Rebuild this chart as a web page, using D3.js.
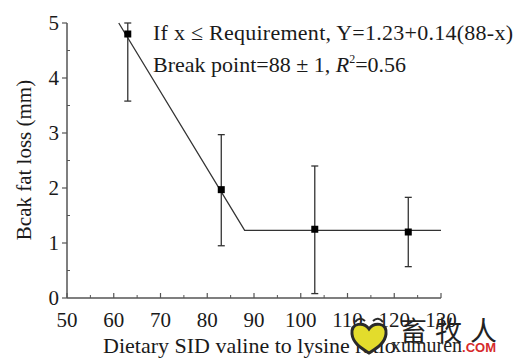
<!DOCTYPE html>
<html>
<head>
<meta charset="utf-8">
<script src="https://cdn.jsdelivr.net/npm/d3@7"></script>
<style>
  body { margin: 0; background: #fff; }
  svg text { font-family: "Liberation Serif", "DejaVu Serif", serif; fill: #1a1a1a; }
</style>
</head>
<body>
<div id="chart"></div>
<script>
// data
var ratio = [63, 83, 103, 123];
var fatLoss = [4.8, 1.97, 1.25, 1.2];
var errLow = [3.58, 0.95, 0.08, 0.57];
var errHigh = [5.0, 2.97, 2.4, 1.83];
var xTicks = [50, 60, 70, 80, 90, 100, 110, 120, 130];
var yTicks = [0, 1, 2, 3, 4, 5];
// broken-line model: Y = 1.23 + 0.14 (88 - x), flat after 88
var breakX = 88, plateau = 1.23, slope = 0.14;
var fitX = [breakX - (5 - plateau) / slope, breakX, 130];

var width = 520, height = 361;
var svg = d3.select("#chart").append("svg")
    .attr("width", width).attr("height", height);

var x = d3.scaleLinear().domain([50, 130]).range([67, 441]);
var y = d3.scaleLinear().domain([0, 5]).range([298, 23]);

var axisColor = "#555";

// left axis - major ticks outward, minor ticks inward
svg.append("line")
    .attr("x1", x(50)).attr("x2", x(50))
    .attr("y1", y(0)).attr("y2", y(5))
    .style("stroke", axisColor).style("stroke-width", 1.5);
svg.selectAll(".ymajor").data(yTicks).enter().append("line")
    .attr("x1", x(50) - 5).attr("x2", x(50))
    .attr("y1", d => y(d)).attr("y2", d => y(d))
    .style("stroke", axisColor).style("stroke-width", 1.2);
svg.selectAll(".yminor").data([0.5, 1.5, 2.5, 3.5, 4.5]).enter().append("line")
    .attr("x1", x(50)).attr("x2", x(50) + 3)
    .attr("y1", d => y(d)).attr("y2", d => y(d))
    .style("stroke", axisColor).style("stroke-width", 1);
svg.selectAll(".ylab").data(yTicks).enter().append("text")
    .attr("x", x(50) - 8).attr("y", d => y(d) + 7)
    .attr("text-anchor", "end")
    .style("font-size", "21px")
    .text(d => d);

// bottom axis - ticks inward
svg.append("line")
    .attr("x1", x(50)).attr("x2", x(130))
    .attr("y1", y(0)).attr("y2", y(0))
    .style("stroke", axisColor).style("stroke-width", 1.5);
svg.selectAll(".xmajor").data(xTicks).enter().append("line")
    .attr("x1", d => x(d)).attr("x2", d => x(d))
    .attr("y1", y(0)).attr("y2", y(0) - 5)
    .style("stroke", axisColor).style("stroke-width", 1.2);
svg.selectAll(".xminor").data(d3.range(55, 130, 10)).enter().append("line")
    .attr("x1", d => x(d)).attr("x2", d => x(d))
    .attr("y1", y(0)).attr("y2", y(0) - 3)
    .style("stroke", axisColor).style("stroke-width", 1);
svg.selectAll(".xlab").data(xTicks).enter().append("text")
    .attr("x", d => x(d)).attr("y", y(0) + 29)
    .attr("text-anchor", "middle")
    .style("font-size", "21px")
    .text(d => d);

// axis titles
svg.append("text")
    .attr("transform", "translate(31,160) rotate(-90)")
    .attr("text-anchor", "middle")
    .style("font-size", "21px")
    .text("Bcak fat loss (mm)");
svg.append("text")
    .attr("x", 103).attr("y", 353)
    .style("font-size", "22px")
    .text("Dietary SID valine to lysine ratio");

// fitted broken line
var line = d3.line()
    .x(d => x(d))
    .y(d => y(d <= breakX ? plateau + slope * (breakX - d) : plateau));
svg.append("path")
    .datum(fitX)
    .attr("d", line)
    .style("fill", "none").style("stroke", "#333").style("stroke-width", 1.3);

// error bars
var bars = svg.selectAll(".err").data(ratio).enter().append("g");
bars.append("line")
    .attr("x1", d => x(d)).attr("x2", d => x(d))
    .attr("y1", (d, i) => y(errLow[i])).attr("y2", (d, i) => y(errHigh[i]))
    .style("stroke", "#333").style("stroke-width", 1.3);
bars.append("line")
    .attr("x1", d => x(d) - 3.5).attr("x2", d => x(d) + 3.5)
    .attr("y1", (d, i) => y(errLow[i])).attr("y2", (d, i) => y(errLow[i]))
    .style("stroke", "#333").style("stroke-width", 1.3);
bars.append("line")
    .attr("x1", d => x(d) - 3.5).attr("x2", d => x(d) + 3.5)
    .attr("y1", (d, i) => y(errHigh[i])).attr("y2", (d, i) => y(errHigh[i]))
    .style("stroke", "#333").style("stroke-width", 1.3);

// points
svg.selectAll(".pt").data(ratio).enter().append("rect")
    .attr("x", d => x(d) - 3.5)
    .attr("y", (d, i) => y(fatLoss[i]) - 3.5)
    .attr("width", 7).attr("height", 7)
    .style("fill", "#000");

// equation text
svg.append("text")
    .attr("x", 153).attr("y", 40)
    .style("font-size", "22px")
    .attr("textLength", 360)
    .text("If x \u2264 Requirement, Y=1.23+0.14(88-x)");
var t2 = svg.append("text")
    .attr("x", 153).attr("y", 72)
    .style("font-size", "22px");
t2.append("tspan").text("Break point=88 \u00b1 1, ");
t2.append("tspan").style("font-style", "italic").text("R");
t2.append("tspan").attr("dy", -9).style("font-size", "12px").text("2");
t2.append("tspan").attr("dy", 9).text("=0.56");

// watermark
var wm = svg.append("g").attr("transform", "translate(369,338)");
wm.append("path")
    .attr("d", "M0,-9 C-5,-16 -18,-16 -17,-4 C-16,6 -6,11 0,15 C6,11 16,6 17,-4 C18,-16 5,-16 0,-9 Z")
    .style("fill", "#e3dc2c").style("stroke", "#2a2a2a").style("stroke-width", 3);
wm.append("path")
    .attr("d", "M-14,-16 Q-9,-22 -4,-17 M4,-17 Q9,-22 14,-16")
    .style("fill", "none").style("stroke", "#2a2a2a").style("stroke-width", 2);
wm.append("text")
    .attr("x", 31).attr("y", 3)
    .style("font-family", "'Noto Sans CJK SC', sans-serif")
    .style("font-size", "27px")
    .style("fill", "#222").style("letter-spacing", "8px")
    .text("畜牧人");
var wm2 = wm.append("text")
    .attr("x", 22).attr("y", 14)
    .style("font-size", "20px");
wm2.append("tspan").style("fill", "#222").text("xumuren");
wm2.append("tspan").style("fill", "#d62a2a").style("font-family", "'Liberation Sans', sans-serif")
    .style("font-size", "13px").style("font-weight", "bold").text(".COM");
</script>
</body>
</html>
